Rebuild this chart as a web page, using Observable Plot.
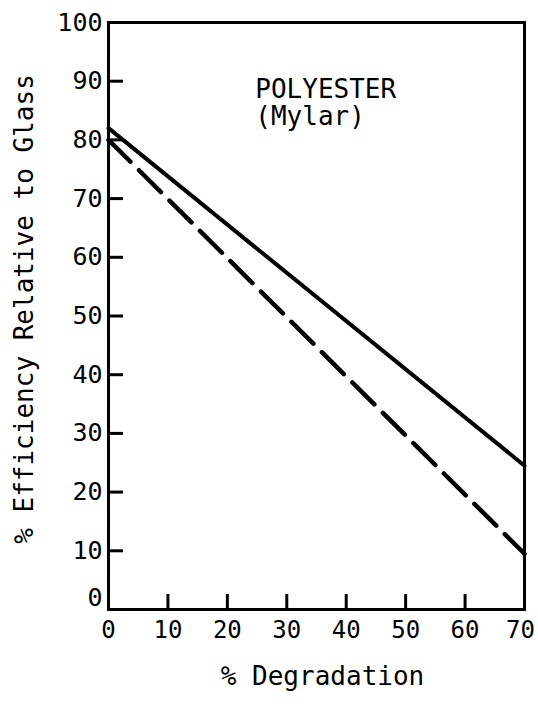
<!DOCTYPE html>
<html>
<head>
<meta charset="utf-8">
<script src="https://cdn.jsdelivr.net/npm/d3@7"></script>
<script src="https://cdn.jsdelivr.net/npm/@observablehq/plot@0.6"></script>
<style>
  html, body { margin: 0; padding: 0; background: white; }
</style>
</head>
<body>
<div id="chart"></div>
<script>
// Data
const degradation = [0, 70];           // % Degradation (x)
const efficiencySolid = [82, 24.5];    // solid line
const efficiencyDashed = [80, 9.5];    // dashed line
const xTickValues = [0, 10, 20, 30, 40, 50, 60, 70];
const yTickValues = [0, 10, 20, 30, 40, 50, 60, 70, 80, 90, 100];
const xLabel = "% Degradation";
const yLabel = "% Efficiency Relative to Glass";
const annotation = "POLYESTER\n(Mylar)";

const solidData = degradation.map((x, i) => ({x, y: efficiencySolid[i]}));
const dashedData = degradation.map((x, i) => ({x, y: efficiencyDashed[i]}));
const innerX = xTickValues.filter(d => d > 0 && d < 70);
const innerY = yTickValues.filter(d => d > 0 && d < 100);

const font = "'DejaVu Sans Mono', 'Liberation Mono', monospace";

const chart = Plot.plot({
  width: 538,
  height: 706,
  marginLeft: 108,
  marginRight: 14,
  marginTop: 22,
  marginBottom: 97,
  x: {domain: [0, 70], axis: null},
  y: {domain: [0, 100], axis: null},
  style: {fontFamily: font, background: "white", color: "black", overflow: "visible"},
  marks: [
    // inward ticks
    Plot.ruleX(innerX, {x: d => d, y1: 0, y2: 2.55, stroke: "black", strokeWidth: 3}),
    Plot.ruleY(innerY, {y: d => d, x1: 0, x2: 2.52, stroke: "black", strokeWidth: 3}),
    // lines
    Plot.line(solidData, {x: "x", y: "y", stroke: "black", strokeWidth: 4}),
    Plot.line(dashedData, {x: "x", y: "y", stroke: "black", strokeWidth: 4.5, strokeDasharray: "31,12"}),
    Plot.frame({stroke: "black", strokeWidth: 3}),
    // tick labels
    Plot.text(xTickValues.filter(d => d < 70), {x: d => d, frameAnchor: "bottom", dy: 28, text: d => String(d), fontSize: 24}),
    Plot.text(xTickValues.filter(d => d === 70), {x: d => d, frameAnchor: "bottom", dx: -4, dy: 28, text: d => String(d), fontSize: 24}),
    Plot.text(yTickValues.filter(d => d > 0), {y: d => d, frameAnchor: "left", textAnchor: "end", dx: -6, text: d => String(d), fontSize: 25}),
    Plot.text([0], {y: d => d, frameAnchor: "left", textAnchor: "end", dx: -6, dy: -12, text: d => String(d), fontSize: 25}),
    // axis titles
    Plot.text([xLabel], {frameAnchor: "bottom", textAnchor: "middle", dx: 6, dy: 75, text: d => d, fontSize: 26}),
    Plot.text([yLabel], {frameAnchor: "left", textAnchor: "middle", dx: -84, dy: -7, rotate: -90, text: d => d, fontSize: 26}),
    // annotation
    Plot.text([annotation], {x: 24.7, y: 86.3, textAnchor: "start", lineHeight: 1.04, text: d => d, fontSize: 26})
  ]
});
document.getElementById("chart").appendChild(chart);
</script>
</body>
</html>
